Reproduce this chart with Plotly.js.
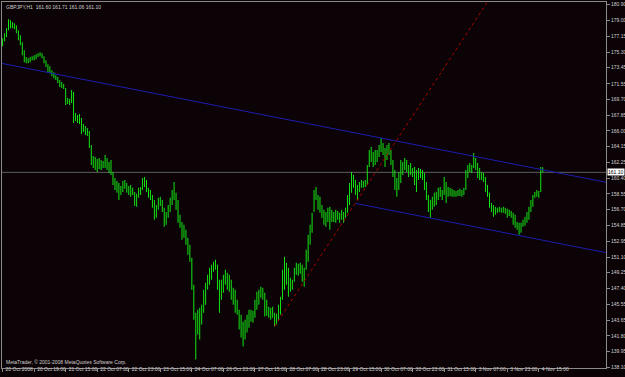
<!DOCTYPE html>
<html><head><meta charset="utf-8">
<script src="https://cdn.plot.ly/plotly-3.0.1.min.js"></script>
<style>html,body{margin:0;padding:0;background:#0b0305;}#chart{width:625px;height:377px;}</style>
</head><body><div id="chart"></div>
<script>
const symbol = "GBPJPY,H1";
const headerOHLC = [161.60, 161.71, 161.06, 161.10];
const lastPrice = 161.10;
const copyright = "MetaTrader, \u00a9 2001-2008 MetaQuotes Software Corp.";

const timeLabels = ["20 Oct 2008","20 Oct 19:00","21 Oct 15:00","22 Oct 07:00","22 Oct 23:00","23 Oct 15:00","24 Oct 07:00","26 Oct 23:00","27 Oct 15:00","28 Oct 07:00","28 Oct 23:00","29 Oct 15:00","30 Oct 07:00","30 Oct 23:00","31 Oct 15:00","3 Nov 07:00","3 Nov 23:00","4 Nov 15:00"];
const labelBars = [0,16,32,48,64,80,96,112,128,144,160,176,192,208,224,240,256,272];
const priceTicks = [180.90,179.00,177.15,175.30,173.45,171.55,169.70,167.85,166.00,164.15,162.25,160.40,158.55,156.70,154.85,152.95,151.10,149.25,147.40,145.55,143.65,141.80,139.95,138.10];

const high = [176.94,177.53,178.11,179.17,179.05,178.81,178.70,178.46,177.88,177.29,
176.46,175.52,174.70,174.58,174.70,174.81,174.93,175.05,175.17,175.28,
175.17,174.81,174.34,173.87,173.63,173.16,172.92,172.57,172.34,171.99,
171.75,171.52,171.05,169.87,169.75,170.81,170.57,168.10,167.86,167.98,
167.51,166.80,166.57,166.33,165.98,164.33,163.03,162.92,162.68,162.80,
162.56,162.44,163.15,162.80,162.32,162.56,161.14,160.44,160.09,159.85,
159.50,160.09,160.21,159.85,159.50,159.62,159.27,158.79,158.56,159.27,
159.38,160.44,160.56,160.21,159.27,159.03,158.44,157.85,157.26,158.09,
158.21,157.85,156.91,156.43,157.26,158.09,159.03,159.97,158.68,157.85,
156.08,155.25,154.90,154.32,153.37,152.55,151.02,147.84,144.54,144.89,
145.13,145.48,147.25,148.08,149.02,149.84,150.19,150.54,150.78,150.19,
148.43,148.43,149.02,149.60,149.25,149.02,148.43,147.49,147.25,146.07,
144.89,144.30,143.47,143.71,144.30,144.89,144.89,144.77,146.07,147.01,
147.25,147.60,147.49,146.90,146.07,145.25,145.13,145.25,144.54,144.42,
145.48,146.43,149.60,151.13,150.43,149.84,148.66,148.43,149.84,150.43,
150.31,150.43,150.19,149.84,151.96,153.73,154.90,156.32,159.03,159.38,
158.44,158.21,157.26,156.67,156.43,156.91,157.03,156.67,156.43,156.67,
156.55,156.32,156.67,156.43,156.91,158.44,159.85,161.14,160.79,160.21,
159.62,159.97,160.21,160.09,160.21,161.97,163.74,164.09,163.50,163.74,
163.74,164.33,165.16,164.57,163.98,164.33,164.57,163.74,162.56,161.38,
160.44,161.14,162.56,162.32,162.80,162.56,161.97,162.21,161.62,161.73,
161.38,161.62,161.50,161.38,161.03,159.97,158.44,157.85,158.21,158.68,
158.79,159.27,159.38,159.03,160.56,159.97,159.38,159.27,159.15,159.03,
158.91,159.03,159.15,159.03,159.27,161.38,161.97,162.21,161.97,163.39,
162.80,162.21,161.62,161.14,161.03,160.56,159.62,158.68,157.49,157.26,
157.03,156.91,157.03,156.91,157.03,156.91,156.79,156.67,156.55,156.32,
156.08,155.25,155.14,155.14,155.49,155.85,156.43,157.03,157.85,158.44,
158.79,159.03,158.91,161.73,161.71];

const low = [175.99,176.58,177.06,177.88,178.11,178.11,177.99,177.53,176.70,176.11,
174.93,174.10,173.99,173.99,174.10,174.34,174.34,174.46,174.70,174.81,
174.58,173.99,173.52,172.92,172.81,172.45,172.22,171.99,171.64,171.17,
171.05,170.93,169.04,169.16,169.04,169.28,166.92,167.15,166.92,166.80,
165.63,165.86,165.51,165.39,163.98,161.97,161.62,161.38,161.14,161.50,
161.38,161.62,161.62,161.38,161.03,160.79,159.62,159.03,158.68,157.85,
158.44,158.79,159.15,158.68,158.44,158.21,158.44,157.14,157.03,158.09,
158.44,159.03,159.38,158.79,158.09,157.85,156.91,155.49,155.73,156.67,
157.14,156.43,154.67,154.90,155.73,156.43,157.26,157.85,156.67,155.14,
154.55,153.14,153.37,152.55,151.37,150.54,147.25,143.71,139.00,141.95,
141.36,143.13,144.54,145.48,147.25,147.84,148.43,149.37,149.60,147.25,
144.54,146.07,146.90,147.84,147.25,147.01,146.07,145.48,144.54,144.30,
142.54,141.60,140.53,141.36,142.19,142.77,143.47,143.36,143.95,144.89,
145.48,146.31,146.07,144.07,144.18,143.95,143.71,143.95,142.89,143.13,
143.71,144.30,146.07,147.25,147.84,146.43,147.01,147.25,148.19,149.02,
148.90,149.13,148.19,147.60,149.60,150.54,152.55,153.96,156.43,157.85,
156.67,156.32,155.73,154.90,154.67,155.25,154.32,155.25,155.25,155.14,
155.49,155.14,155.49,155.14,155.73,156.32,157.26,158.68,159.27,158.44,
157.85,158.79,159.27,159.27,159.38,159.62,161.73,162.32,161.73,161.97,
162.32,162.92,163.50,163.15,161.73,162.56,163.15,161.97,160.56,159.03,
158.21,159.03,159.85,160.79,161.38,161.14,160.56,160.79,160.56,159.62,
158.79,160.21,160.44,160.21,159.03,157.85,156.43,155.73,156.67,157.03,
157.26,157.85,158.21,157.85,158.44,157.49,158.21,158.32,158.21,158.21,
158.21,158.32,158.32,158.21,158.44,159.03,160.44,161.14,161.03,161.62,
161.38,160.44,160.21,160.21,159.97,158.79,158.21,156.91,156.43,155.85,
156.08,156.32,156.43,156.32,156.32,156.20,155.73,155.96,155.73,154.90,
154.55,154.32,153.73,153.96,154.67,154.79,155.14,155.49,156.43,157.03,
158.09,158.21,158.09,158.79,161.06];

const upperLineBars = [-5, 310];
const upperLinePrices = [174.17, 159.75];
const lowerLineBars = [179, 310];
const lowerLinePrices = [157.44, 151.44];
const redLineBars = [138, 300];
const redLinePrices = [142.93, 200.40];

const bg = "#0b0305";
const axisCol = "#8a8a8a";
const txtCol = "#d0d0d0";
const fnt = "Liberation Sans";

const idx = high.map((_, i) => i);
const traces = [
  {type: "bar", x: idx, base: low, y: high.map((h, i) => h - low[i]), width: 0.5,
   marker: {color: "#14e814", line: {width: 0}}, hoverinfo: "skip"},
  {type: "scatter", mode: "lines", x: upperLineBars, y: upperLinePrices,
   line: {color: "#1c1cb0", width: 1}, hoverinfo: "skip"},
  {type: "scatter", mode: "lines", x: lowerLineBars, y: lowerLinePrices,
   line: {color: "#1c1cb0", width: 1}, hoverinfo: "skip"},
  {type: "scatter", mode: "lines", x: redLineBars, y: redLinePrices,
   line: {color: "#b00000", width: 1, dash: "dot"}, hoverinfo: "skip"}
];

const layout = {
  width: 625, height: 377,
  margin: {l: 2, r: 19, t: 2, b: 9},
  paper_bgcolor: bg, plot_bgcolor: bg,
  showlegend: false,
  xaxis: {range: [-0.3, 306.1], tickvals: labelBars, ticktext: timeLabels,
    ticks: "outside", ticklen: 3, tickcolor: axisCol, showline: true, linecolor: axisCol,
    linewidth: 1, mirror: true, showgrid: false, zeroline: false, tickangle: 0,
    ticklabelposition: "outside right", ticklabelstandoff: -4, ticklabelshift: 2,
    tickfont: {family: fnt, size: 5, color: txtCol}, fixedrange: true},
  yaxis: {side: "right", range: [138.006, 181.206], tickvals: priceTicks,
    ticktext: priceTicks.map(v => v.toFixed(2)),
    ticks: "outside", ticklen: 3, tickcolor: axisCol, showline: true, linecolor: axisCol,
    linewidth: 1, mirror: true, showgrid: false, zeroline: false,
    tickfont: {family: fnt, size: 5, color: txtCol}, fixedrange: true},
  shapes: [{type: "line", xref: "paper", x0: 0, x1: 1, yref: "y", y0: lastPrice, y1: lastPrice,
    line: {color: "#5e5e5e", width: 1}, layer: "below"}],
  annotations: [
    {xref: "paper", yref: "paper", x: 0, y: 1, xanchor: "left", yanchor: "top", showarrow: false,
     xshift: 2, yshift: 0, text: symbol + "  " + headerOHLC.map(v => v.toFixed(2)).join(" "),
     font: {family: fnt, size: 5, color: txtCol}},
    {xref: "paper", yref: "paper", x: 0, y: 0, xanchor: "left", yanchor: "bottom", showarrow: false,
     xshift: 2, yshift: 1, text: copyright, font: {family: fnt, size: 5, color: txtCol}},
    {xref: "paper", yref: "y", x: 1, y: lastPrice, xanchor: "left", yanchor: "middle", showarrow: false,
     xshift: 1, text: lastPrice.toFixed(2), bgcolor: "#ffffff", borderpad: 0,
     font: {family: fnt, size: 5, color: "#000000"}}
  ]
};

Plotly.newPlot("chart", traces, layout, {staticPlot: true, displayModeBar: false});
</script>
</body></html>
